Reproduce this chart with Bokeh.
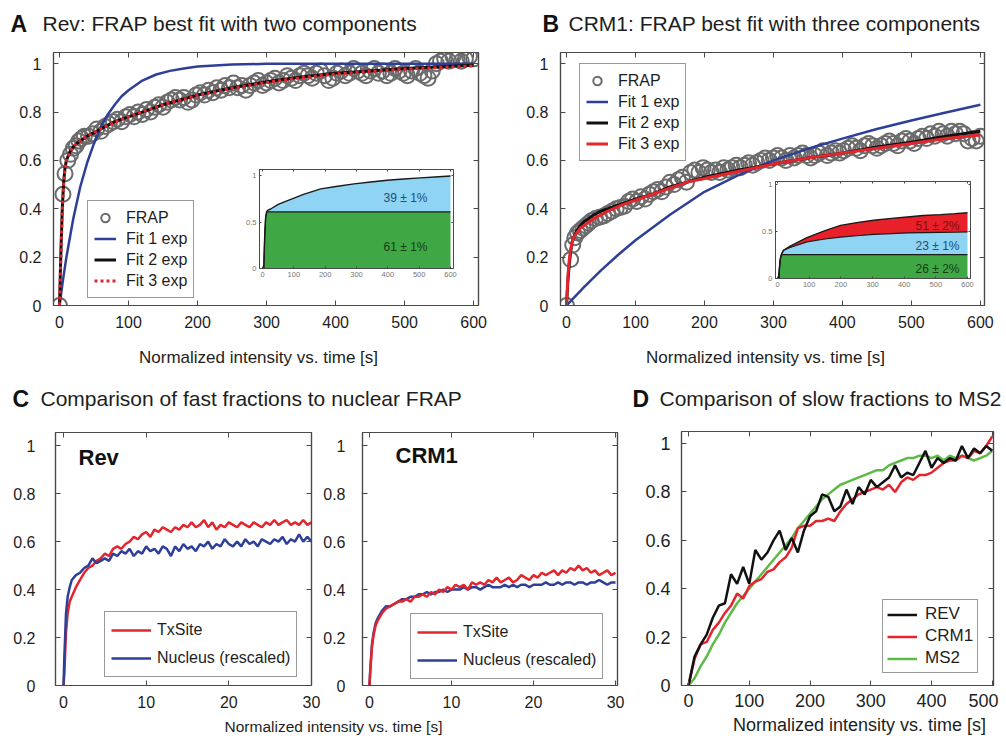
from bokeh.plotting import figure
from bokeh.models import Range1d, LinearAxis, FixedTicker, Label, Legend, LegendItem
from bokeh.embed import file_html
from bokeh.resources import INLINE

FONT = "Liberation Sans"
FRAME = "#4a4a4a"
TXT = "#1e1e1e"
BLUE = "#2e3f98"
RED = "#e3262d"
BLACK = "#111111"
GREEN = "#5dba47"
GRAY = "#6b6b6b"

# ---------------- data: panel A (Rev) ----------------
a_frap_t = [0, 5, 8, 12, 16, 20, 24, 28, 32] + list(range(36, 601, 6))
a_frap_y = [0.0, 0.46, 0.545, 0.60, 0.625, 0.65, 0.66, 0.68, 0.69,
            0.70, 0.70, 0.71, 0.73, 0.72, 0.74, 0.75, 0.76, 0.77, 0.76,
            0.78, 0.79, 0.78, 0.80, 0.79, 0.81, 0.80, 0.82, 0.83, 0.82,
            0.84, 0.85, 0.86, 0.85, 0.86, 0.84, 0.85, 0.87, 0.88, 0.87,
            0.89, 0.88, 0.90, 0.89, 0.91, 0.90, 0.92, 0.90, 0.91, 0.89,
            0.91, 0.92, 0.93, 0.91, 0.92, 0.93, 0.94, 0.92, 0.93, 0.95,
            0.94, 0.93, 0.95, 0.96, 0.95, 0.94, 0.96, 0.97, 0.95, 0.93,
            0.94, 0.96, 0.97, 0.95, 0.96, 0.98, 0.97, 0.96, 0.95, 0.97,
            0.98, 0.96, 0.97, 0.95, 0.96, 0.98, 0.97, 0.96, 0.95, 0.97,
            0.98, 0.96, 0.95, 0.94, 0.97, 1.00, 1.01, 1.02, 1.01, 1.03,
            1.02, 1.01, 1.02, 1.03, 1.02]
a_fit1_t = [0, 5, 10, 15, 20, 30, 40, 50, 60, 70, 80, 90, 100, 120, 140, 160, 180, 200, 250, 300, 400, 500, 600]
a_fit1_y = [0, 0.105, 0.20, 0.28, 0.36, 0.49, 0.59, 0.67, 0.74, 0.79, 0.83, 0.865, 0.89, 0.93, 0.955, 0.97,
            0.98, 0.988, 0.996, 0.999, 1.0, 1.0, 1.0]
a_fit_t = [0, 2, 4, 6, 8, 10, 15, 20, 25, 30, 40, 50, 60, 80, 100, 125, 150, 200, 250, 300, 350, 400, 450, 500, 550, 600]
a_fit2_y = [0, 0.22, 0.40, 0.51, 0.57, 0.60, 0.635, 0.655, 0.67, 0.68, 0.70, 0.715, 0.73, 0.76, 0.78, 0.805,
            0.83, 0.87, 0.90, 0.925, 0.945, 0.96, 0.97, 0.98, 0.987, 0.993]
a_fit3_y = [0, 0.21, 0.39, 0.50, 0.565, 0.60, 0.635, 0.655, 0.668, 0.68, 0.70, 0.716, 0.73, 0.758, 0.78, 0.806,
            0.83, 0.868, 0.898, 0.922, 0.942, 0.957, 0.968, 0.977, 0.984, 0.99]

# inset A: fraction decomposition
ia_t = [0, 4, 7, 10, 13, 16, 26, 50, 80, 133, 186, 240, 292, 345, 398, 450, 504, 550, 600]
ia_fast = [0, 0, 0.35, 0.55, 0.60, 0.61, 0.61, 0.61, 0.61, 0.61, 0.61, 0.61, 0.61, 0.61, 0.61, 0.61, 0.61, 0.61, 0.61]
ia_total = [0, 0, 0.35, 0.55, 0.61, 0.625, 0.64, 0.69, 0.73, 0.80, 0.856, 0.885, 0.91, 0.93, 0.95, 0.963, 0.975,
            0.985, 0.995]
ia_labels = ["39 ± 1%", "61 ± 1%"]

# ---------------- data: panel B (CRM1) ----------------
b_frap_t = [0, 6, 9, 12, 16, 20, 24, 28, 32] + list(range(36, 601, 6))
b_frap_y = [0.0, 0.19, 0.25, 0.28, 0.30, 0.31, 0.32, 0.33, 0.34,
            0.35, 0.36, 0.365, 0.37, 0.38, 0.39, 0.40, 0.405, 0.41, 0.43,
            0.44, 0.43, 0.45, 0.44, 0.46, 0.47, 0.48, 0.47, 0.49, 0.51,
            0.50, 0.52, 0.53, 0.51, 0.55, 0.56, 0.55, 0.57, 0.56, 0.55,
            0.56, 0.55, 0.57, 0.56, 0.57, 0.58, 0.57, 0.58, 0.59, 0.58,
            0.59, 0.60, 0.61, 0.60, 0.61, 0.62, 0.61, 0.60, 0.62, 0.61,
            0.62, 0.63, 0.62, 0.61, 0.62, 0.63, 0.64, 0.62, 0.63, 0.64,
            0.63, 0.64, 0.65, 0.66, 0.65, 0.64, 0.66, 0.67, 0.66, 0.65,
            0.66, 0.67, 0.68, 0.67, 0.66, 0.68, 0.69, 0.68, 0.67, 0.69,
            0.70, 0.69, 0.71, 0.70, 0.72, 0.71, 0.70, 0.72, 0.71, 0.72,
            0.71, 0.68, 0.69, 0.68, 0.70]
b_fit1_t = [0, 25, 50, 75, 100, 150, 200, 250, 300, 350, 400, 450, 500, 550, 600]
b_fit1_y = [0, 0.075, 0.145, 0.21, 0.27, 0.375, 0.47, 0.54, 0.60, 0.648, 0.69, 0.73, 0.765, 0.798, 0.83]
b_fit_t = [0, 2, 4, 6, 8, 10, 15, 20, 25, 30, 40, 50, 60, 80, 100, 125, 150, 175, 200, 250, 300, 350, 400, 450,
           500, 550, 600]
b_fit2_y = [0, 0.10, 0.17, 0.22, 0.26, 0.28, 0.31, 0.33, 0.345, 0.355, 0.375, 0.39, 0.40, 0.42, 0.44, 0.46, 0.49,
            0.51, 0.53, 0.56, 0.585, 0.61, 0.63, 0.655, 0.675, 0.70, 0.72]
b_fit3_y = [0, 0.12, 0.19, 0.23, 0.26, 0.28, 0.30, 0.32, 0.33, 0.34, 0.36, 0.375, 0.39, 0.415, 0.435, 0.46, 0.485,
            0.51, 0.525, 0.555, 0.585, 0.61, 0.63, 0.65, 0.67, 0.69, 0.705]

# inset B: three fractions
ib_t = [0, 4, 7, 10, 13, 19, 40, 93, 150, 199, 250, 304, 360, 410, 460, 515, 560, 600]
ib_fast = [0, 0, 0.15, 0.23, 0.25, 0.255, 0.255, 0.255, 0.255, 0.255, 0.255, 0.255, 0.255, 0.255, 0.255, 0.255,
           0.255, 0.255]
ib_mid = [0, 0, 0.15, 0.23, 0.26, 0.30, 0.33, 0.39, 0.42, 0.44, 0.455, 0.47, 0.478, 0.485, 0.488, 0.49, 0.492, 0.495]
ib_total = [0, 0, 0.15, 0.23, 0.26, 0.30, 0.345, 0.435, 0.51, 0.565, 0.595, 0.62, 0.64, 0.655, 0.67, 0.68, 0.69, 0.70]
ib_labels = ["51 ± 2%", "23 ± 1%", "26 ± 2%"]

# ---------------- data: panel C (fast fractions) ----------------
c_t = [0, 0.1, 0.3, 0.5, 0.75] + [k / 2 for k in range(2, 61)]
c_rev_tx = [0.0, 0.05, 0.22, 0.30, 0.35,
            0.37, 0.41, 0.44, 0.47, 0.49, 0.50, 0.52, 0.53, 0.55, 0.54,
            0.57, 0.58, 0.57, 0.59, 0.60, 0.62, 0.61, 0.63, 0.64, 0.62,
            0.65, 0.64, 0.66, 0.65, 0.64, 0.66, 0.65, 0.67, 0.66, 0.68,
            0.66, 0.67, 0.69, 0.66, 0.68, 0.65, 0.67, 0.66, 0.68, 0.67,
            0.66, 0.68, 0.67, 0.66, 0.68, 0.67, 0.66, 0.68, 0.67, 0.69,
            0.67, 0.68, 0.69, 0.67, 0.68, 0.67, 0.69, 0.67, 0.68]
c_rev_nuc = [0.0, 0.12, 0.30, 0.37, 0.41,
             0.44, 0.46, 0.47, 0.49, 0.50, 0.53, 0.51, 0.52, 0.53, 0.52,
             0.55, 0.54, 0.56, 0.55, 0.57, 0.54, 0.56, 0.55, 0.58, 0.56,
             0.57, 0.55, 0.58, 0.57, 0.54, 0.58, 0.56, 0.59, 0.57, 0.58,
             0.56, 0.59, 0.58, 0.60, 0.57, 0.59, 0.58, 0.61, 0.59, 0.58,
             0.60, 0.58, 0.61, 0.59, 0.60, 0.58, 0.61, 0.60, 0.59, 0.61,
             0.60, 0.62, 0.59, 0.61, 0.60, 0.63, 0.60, 0.62, 0.60]
c_crm_tx = [0.0, 0.06, 0.16, 0.21, 0.25,
            0.27, 0.30, 0.32, 0.33, 0.34, 0.35, 0.35, 0.36, 0.35, 0.37,
            0.37, 0.38, 0.37, 0.39, 0.38, 0.40, 0.39, 0.41, 0.40, 0.42,
            0.41, 0.42, 0.40, 0.43, 0.42, 0.43, 0.42, 0.44, 0.43, 0.45,
            0.43, 0.44, 0.45, 0.43, 0.44, 0.46, 0.45, 0.44, 0.46, 0.45,
            0.47, 0.46, 0.47, 0.48, 0.46, 0.48, 0.47, 0.49, 0.48, 0.50,
            0.48, 0.49, 0.47, 0.48, 0.46, 0.47, 0.48, 0.46, 0.47]
c_crm_nuc = [0.0, 0.07, 0.17, 0.22, 0.26,
             0.28, 0.31, 0.33, 0.33, 0.34, 0.35, 0.36, 0.36, 0.37, 0.37,
             0.38, 0.38, 0.39, 0.38, 0.39, 0.39, 0.40, 0.39, 0.40, 0.40,
             0.40, 0.41, 0.40, 0.41, 0.41, 0.40, 0.41, 0.42, 0.41, 0.41,
             0.41, 0.42, 0.41, 0.42, 0.41, 0.42, 0.42, 0.41, 0.42, 0.42,
             0.42, 0.43, 0.42, 0.42, 0.43, 0.42, 0.43, 0.43, 0.42, 0.43,
             0.43, 0.42, 0.43, 0.43, 0.44, 0.43, 0.42, 0.43, 0.43]

# ---------------- data: panel D (slow fractions) ----------------
d_t = list(range(0, 501, 10))
d_rev = [0.0, 0.12, 0.17, 0.21, 0.28, 0.33, 0.34, 0.46, 0.42, 0.49,
         0.42, 0.56, 0.52, 0.55, 0.60, 0.64, 0.56, 0.61, 0.55, 0.64,
         0.70, 0.72, 0.79, 0.78, 0.72, 0.74, 0.81, 0.75, 0.82, 0.79,
         0.85, 0.82, 0.84, 0.86, 0.91, 0.86, 0.88, 0.87, 0.92, 0.97,
         0.90, 0.94, 0.92, 0.94, 0.93, 0.99, 0.94, 0.98, 0.96, 0.99,
         0.97]
d_crm = [0.0, 0.11, 0.17, 0.18, 0.23, 0.26, 0.30, 0.33, 0.38, 0.36,
         0.41, 0.43, 0.44, 0.47, 0.48, 0.51, 0.53, 0.57, 0.65, 0.66,
         0.66, 0.68, 0.68, 0.69, 0.68, 0.72, 0.75, 0.77, 0.79, 0.80,
         0.81, 0.82, 0.81, 0.83, 0.80, 0.84, 0.86, 0.85, 0.87, 0.87,
         0.88, 0.90, 0.92, 0.93, 0.93, 0.95, 0.94, 0.97, 0.96, 0.99,
         1.03]
d_ms2 = [0.0, 0.03, 0.08, 0.12, 0.17, 0.21, 0.26, 0.30, 0.34, 0.37,
         0.40, 0.43, 0.46, 0.49, 0.52, 0.55, 0.58, 0.61, 0.65, 0.68,
         0.71, 0.74, 0.77, 0.79, 0.81, 0.83, 0.84, 0.85, 0.86, 0.87,
         0.88, 0.89, 0.89, 0.91, 0.92, 0.93, 0.94, 0.94, 0.95, 0.95,
         0.94, 0.95, 0.93, 0.95, 0.94, 0.95, 0.94, 0.93, 0.94, 0.95,
         0.97]

y_ticks = [0, 0.2, 0.4, 0.6, 0.8, 1]
y_tick_labels = ["0", "0.2", "0.4", "0.6", "0.8", "1"]
x600_ticks = [0, 100, 200, 300, 400, 500, 600]
x30_ticks = [0, 10, 20, 30]
x500_ticks = [0, 100, 200, 300, 400, 500]
inset_y_ticks = [0, 0.5, 1]
inset_y_labels = ["0", "0.5", "1"]

# ---------------- geometry (page pixels) ----------------
G = {
    "A": dict(fig=(8, 8, 492, 362), frame=(53, 478, 52, 305), xr=(-8.7, 607), yr=(0, 1.046)),
    "B": dict(fig=(500, 8, 498, 362), frame=(560, 984, 52, 305), xr=(-8.7, 606), yr=(0, 1.046)),
    "IA": dict(fig=(239, 160, 220, 128), frame=(259, 453, 169, 268), xr=(-9.6, 609.6), yr=(0, 1.065)),
    "IB": dict(fig=(755, 172, 221, 126), frame=(775, 970, 181, 278), xr=(-6.3, 609.5), yr=(0, 1.032)),
    "CR": dict(fig=(8, 380, 322, 348), frame=(55, 311, 432, 685), xr=(-0.97, 30), yr=(0, 1.055)),
    "CC": dict(fig=(318, 380, 312, 348), frame=(362, 617, 432, 685), xr=(-0.85, 30.24), yr=(0, 1.055)),
    "D": dict(fig=(630, 380, 368, 348), frame=(681, 993, 431, 685), xr=(-11.5, 502), yr=(0, 1.05)),
}


def to_data(g, px, py):
    L, R, T, B = g["frame"]
    x0, x1 = g["xr"]
    y0, y1 = g["yr"]
    return x0 + (px - L) * (x1 - x0) / (R - L), y0 + (B - py) * (y1 - y0) / (B - T)


def make_fig(g, xticks, yticks, ylabels, font_px, xstand, ystand, tick_in=5, label_color=TXT, lw=1.2):
    fx, fy, w, h = g["fig"]
    L, R, T, B = g["frame"]
    p = figure(width=w, height=h, x_range=Range1d(*g["xr"]), y_range=Range1d(*g["yr"]),
               output_backend="svg", toolbar_location=None, tools="",
               min_border_left=L - fx, min_border_right=fx + w - R,
               min_border_top=T - fy, min_border_bottom=fy + h - B)
    p.styles = {"position": "absolute", "left": f"{fx}px", "top": f"{fy}px"}
    p.border_fill_color = None
    p.background_fill_color = "white"
    p.outline_line_color = FRAME
    p.outline_line_width = lw
    p.xgrid.visible = False
    p.ygrid.visible = False
    for ax, ticks, labels, stand in ((p.xaxis[0], xticks, None, xstand), (p.yaxis[0], yticks, ylabels, ystand)):
        ax.ticker = FixedTicker(ticks=ticks)
        if labels is not None:
            ax.major_label_overrides = {t: s for t, s in zip(ticks, labels)}
        ax.axis_line_color = FRAME
        ax.axis_line_width = lw
        ax.major_tick_line_color = FRAME
        ax.major_tick_in = tick_in
        ax.major_tick_out = 0
        ax.minor_tick_line_color = None
        ax.major_label_text_font = FONT
        ax.major_label_text_font_size = f"{font_px}px"
        ax.major_label_text_color = label_color
        ax.major_label_standoff = stand
    # mirrored inward tick marks on the top and right edges (no labels)
    for loc, ticks in (("above", xticks), ("right", yticks)):
        ax = LinearAxis(ticker=FixedTicker(ticks=ticks), major_label_text_font_size="0px",
                        major_label_text_color=None, major_label_standoff=0,
                        major_tick_in=tick_in, major_tick_out=0, minor_tick_line_color=None,
                        axis_line_color=FRAME, axis_line_width=lw, major_tick_line_color=FRAME)
        p.add_layout(ax, loc)
    return p


def add_text(p, g, px, py, text, size, bold=False, color=TXT, align="left"):
    x, y = to_data(g, px, py)
    p.add_layout(Label(x=x, y=y, text=text, text_font=FONT, text_font_size=f"{size}px",
                       text_font_style="bold" if bold else "normal", text_color=color,
                       text_align=align, text_baseline="middle"))


def add_legend(p, g, items, left, bottom, font_px, glyph_w, item_h, spacing, padding, standoff):
    L, R, T, B = g["frame"]
    leg = Legend(items=[LegendItem(label=lab, renderers=[r]) for lab, r in items],
                 location=(left - L, B - bottom),
                 label_text_font=FONT, label_text_font_size=f"{font_px}px", label_text_color=TXT,
                 glyph_width=glyph_w, glyph_height=item_h, label_height=item_h,
                 spacing=spacing, padding=padding, margin=0, label_standoff=standoff,
                 border_line_color="#333333", border_line_width=1.2,
                 background_fill_color="white", background_fill_alpha=1.0)
    p.add_layout(leg)


# ---------------- Panel A ----------------
gA = G["A"]
pA = make_fig(gA, x600_ticks, y_ticks, y_tick_labels, 16, 10, 12)
rA0 = pA.scatter(a_frap_t, a_frap_y, marker="circle", size=15, line_color=GRAY, line_width=2, fill_color=None)
rA1 = pA.line(a_fit1_t, a_fit1_y, line_color=BLUE, line_width=2.5)
rA2 = pA.line(a_fit_t, a_fit2_y, line_color=BLACK, line_width=3)
rA3 = pA.line(a_fit_t, a_fit3_y, line_color=RED, line_width=3, line_dash="3 3")
add_legend(pA, gA, [("FRAP", rA0), ("Fit 1 exp", rA1), ("Fit 2 exp", rA2), ("Fit 3 exp", rA3)],
           87, 298, 16, 22, 21, 0, 6, 10)

# ---------------- Panel B ----------------
gB = G["B"]
pB = make_fig(gB, x600_ticks, y_ticks, y_tick_labels, 16, 10, 12)
rB0 = pB.scatter(b_frap_t, b_frap_y, marker="circle", size=15, line_color=GRAY, line_width=2, fill_color=None)
rB1 = pB.line(b_fit1_t, b_fit1_y, line_color=BLUE, line_width=2.5)
rB2 = pB.line(b_fit_t, b_fit2_y, line_color=BLACK, line_width=3)
rB3 = pB.line(b_fit_t, b_fit3_y, line_color=RED, line_width=3)
add_legend(pB, gB, [("FRAP", rB0), ("Fit 1 exp", rB1), ("Fit 2 exp", rB2), ("Fit 3 exp", rB3)],
           579, 161, 16, 22, 21, 0, 6, 10)

# ---------------- Inset A ----------------
gIA = G["IA"]
pIA = make_fig(gIA, x600_ticks, inset_y_ticks, inset_y_labels, 7.5, 3, 3, tick_in=2, label_color="#777777", lw=1)
pIA.varea(x=ia_t, y1=0, y2=ia_fast, fill_color="#3fa844")
pIA.varea(x=ia_t, y1=ia_fast, y2=ia_total, fill_color="#8fd4f2")
pIA.line(ia_t, ia_fast, line_color="#1a1a1a", line_width=1.2)
pIA.line(ia_t, ia_total, line_color="#1a1a1a", line_width=1.4)
add_text(pIA, gIA, 405, 197, ia_labels[0], 12, color="#1f4e79", align="center")
add_text(pIA, gIA, 405, 246, ia_labels[1], 12, color="#173d17", align="center")

# ---------------- Inset B ----------------
gIB = G["IB"]
pIB = make_fig(gIB, x600_ticks, inset_y_ticks, inset_y_labels, 7.5, 3, 3, tick_in=2, label_color="#777777", lw=1)
pIB.varea(x=ib_t, y1=0, y2=ib_fast, fill_color="#3fa844")
pIB.varea(x=ib_t, y1=ib_fast, y2=ib_mid, fill_color="#8fd4f2")
pIB.varea(x=ib_t, y1=ib_mid, y2=ib_total, fill_color="#e8202a")
pIB.line(ib_t, ib_fast, line_color="#1a1a1a", line_width=1.2)
pIB.line(ib_t, ib_mid, line_color="#1a1a1a", line_width=1.2)
pIB.line(ib_t, ib_total, line_color="#1a1a1a", line_width=1.4)
add_text(pIB, gIB, 937, 225, ib_labels[0], 12, color="#7a1010", align="center")
add_text(pIB, gIB, 937, 245, ib_labels[1], 12, color="#1f4e79", align="center")
add_text(pIB, gIB, 937, 268, ib_labels[2], 12, color="#173d17", align="center")

# ---------------- Panel C (Rev) ----------------
gCR = G["CR"]
pCR = make_fig(gCR, x30_ticks, y_ticks, y_tick_labels, 16, 10, 20)
rC1 = pCR.line(c_t, c_rev_tx, line_color=RED, line_width=2.5)
rC2 = pCR.line(c_t, c_rev_nuc, line_color=BLUE, line_width=2.5)
add_legend(pCR, gCR, [("TxSite", rC1), ("Nucleus (rescaled)", rC2)], 104, 677, 16, 40, 24, 4, 6, 6)
add_text(pCR, gCR, 78, 457, "Rev", 22, bold=True, color="#111111")

# ---------------- Panel C (CRM1) ----------------
gCC = G["CC"]
pCC = make_fig(gCC, x30_ticks, y_ticks, y_tick_labels, 16, 10, 17)
rC3 = pCC.line(c_t, c_crm_nuc, line_color=BLUE, line_width=2.5)
rC4 = pCC.line(c_t, c_crm_tx, line_color=RED, line_width=2.5)
add_legend(pCC, gCC, [("TxSite", rC4), ("Nucleus (rescaled)", rC3)], 410, 679, 16, 40, 24, 4, 6, 6)
add_text(pCC, gCC, 395, 455, "CRM1", 22, bold=True, color="#111111")

# ---------------- Panel D ----------------
gD = G["D"]
pD = make_fig(gD, x500_ticks, y_ticks, y_tick_labels, 18, 8, 11)
rD3 = pD.line(d_t, d_ms2, line_color=GREEN, line_width=2.5)
rD2 = pD.line(d_t, d_crm, line_color=RED, line_width=2.5)
rD1 = pD.line(d_t, d_rev, line_color=BLACK, line_width=2.5)
add_legend(pD, gD, [("REV", rD1), ("CRM1", rD2), ("MS2", rD3)], 882, 673, 17, 30, 19, 2, 4, 8)

# ---------------- text layer: panel titles and axis titles ----------------
GT = dict(frame=(0, 1006, 0, 736), xr=(0, 1006), yr=(736, 0))
pT = figure(width=1006, height=736, x_range=Range1d(0, 1006), y_range=Range1d(736, 0),
            output_backend="svg", toolbar_location=None, tools="",
            x_axis_type=None, y_axis_type=None,
            min_border_left=0, min_border_right=0, min_border_top=0, min_border_bottom=0)
pT.styles = {"position": "absolute", "left": "0px", "top": "0px"}
pT.border_fill_color = None
pT.background_fill_color = None
pT.outline_line_color = None
pT.grid.visible = False

panel_titles = [("A", "Rev: FRAP best fit with two components", 10, 42, 23, 21),
                ("B", "CRM1: FRAP best fit with three components", 542, 568, 23, 21),
                ("C", "Comparison of fast fractions to nuclear FRAP", 12, 40, 398, 21),
                ("D", "Comparison of slow fractions to MS2", 632, 659, 398, 21)]
for letter, title, lx, tx, ty, fs in panel_titles:
    add_text(pT, GT, lx, ty, letter, 23, bold=True, color="#111111")
    add_text(pT, GT, tx, ty, title, fs)

axis_titles = [(258, 357, 17), (765, 357, 17), (333, 726, 15.5), (859, 724, 18)]
for cx, cy, fs in axis_titles:
    add_text(pT, GT, cx, cy, "Normalized intensity vs. time [s]", fs, align="center")

roots = [pA, pB, pCR, pCC, pD, pIA, pIB, pT]
open("out.html", "w").write(file_html(roots, INLINE, title="FRAP figure"))
